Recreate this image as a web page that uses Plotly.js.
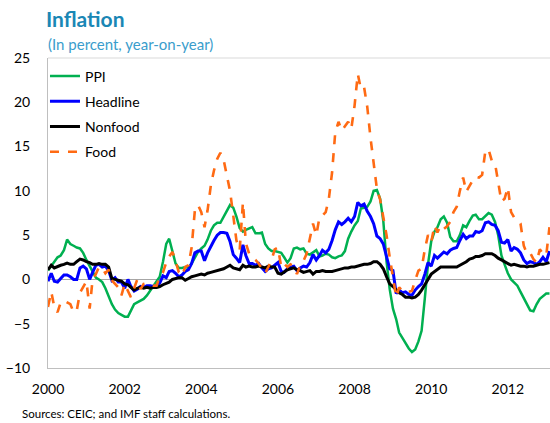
<!DOCTYPE html>
<html>
<head>
<meta charset="utf-8">
<script src="https://cdn.plot.ly/plotly-3.0.1.min.js"></script>
<style>
  html, body { margin: 0; padding: 0; background: #ffffff; }
  #chart { width: 550px; height: 423px; }
</style>
</head>
<body>
<div id="chart"></div>
<script>
// Monthly series, January 2000 to February 2013 (percent, year-on-year)
const startYear = 2000;
const seriesNames = ["PPI", "Headline", "Nonfood", "Food"];
const tickYears = ["2000", "2002", "2004", "2006", "2008", "2010", "2012"];

const ppi = [
  1.0, 1.5, 2.0, 2.5, 2.7, 3.3, 4.5, 4.0, 3.8, 3.6, 3.5, 3.0,
  2.2, 1.5, 0.8, 0.2, 0.0, -0.3, -1.0, -2.0, -2.8, -3.4, -3.8, -4.0,
  -4.2, -4.2, -3.5, -2.8, -2.6, -2.4, -2.2, -1.8, -1.3, -0.8, -0.3, 0.3,
  2.0, 4.0, 4.6, 3.0, 1.8, 1.3, 1.3, 1.4, 1.3, 1.8, 2.5, 3.1,
  3.5, 3.8, 4.5, 5.5, 6.1, 6.4, 6.4, 7.1, 7.9, 8.4, 8.1, 7.1,
  5.8, 5.4, 5.6, 5.8, 5.9, 5.2, 5.2, 5.3, 4.0, 3.5, 3.2, 3.2,
  3.1, 3.0, 2.5, 1.9, 2.4, 3.5, 3.6, 3.4, 3.5, 2.9, 2.8, 3.1,
  3.3, 2.6, 2.7, 2.9, 2.8, 2.5, 2.4, 2.6, 2.7, 3.2, 4.6, 5.4,
  6.1, 6.6, 8.0, 8.1, 8.2, 8.8, 10.0, 10.1, 9.1, 6.6, 2.0, -1.1,
  -3.3, -4.5, -6.0, -6.6, -7.2, -7.8, -8.2, -7.9, -7.0, -5.8, -2.1, 1.7,
  4.3, 5.4, 5.9, 6.8, 7.1, 6.4, 4.8, 4.3, 4.3, 5.0, 6.1, 5.9,
  6.6, 7.2, 7.3, 6.8, 6.8, 7.1, 7.5, 7.3, 6.5, 5.0, 2.7, 1.7,
  0.7, 0.0, -0.3, -0.7, -1.4, -2.1, -2.9, -3.5, -3.6, -2.8, -2.2, -1.9,
  -1.6, -1.6
];

const headline = [
  -0.2, 0.7, -0.2, -0.3, 0.1, 0.5, 0.5, 0.3, 0.0, 0.0, 1.3, 1.5,
  1.2, 0.0, 0.8, 1.6, 1.7, 1.4, 1.5, 1.0, -0.1, 0.2, -0.3, -0.3,
  -1.0, 0.0, -0.8, -1.3, -1.1, -0.8, -0.9, -0.7, -0.7, -0.8, -0.7, -0.4,
  0.4, 0.2, 0.9, 1.0, 0.7, 0.3, 0.5, 0.9, 1.1, 1.8, 3.0, 3.2,
  3.2, 2.1, 3.0, 3.8, 4.4, 5.0, 5.3, 5.3, 5.2, 4.3, 2.8, 2.4,
  1.9, 3.9, 2.7, 1.8, 1.8, 1.6, 1.8, 1.3, 0.9, 1.2, 1.3, 1.6,
  1.9, 0.9, 0.8, 1.2, 1.4, 1.5, 1.0, 1.3, 1.5, 1.4, 1.9, 2.8,
  2.2, 2.7, 3.3, 3.0, 3.4, 4.4, 5.6, 6.5, 6.2, 6.5, 6.9, 6.5,
  7.1, 8.7, 8.3, 8.5, 7.7, 7.1, 6.3, 4.9, 4.6, 4.0, 2.4, 1.2,
  1.0, -1.6, -1.2, -1.5, -1.4, -1.7, -1.8, -1.2, -0.8, -0.5, 0.6, 1.9,
  1.5, 2.7, 2.4, 2.8, 3.1, 2.9, 3.3, 3.5, 3.6, 4.4, 5.1, 4.6,
  4.9, 4.9, 5.4, 5.3, 5.5, 6.4, 6.5, 6.2, 6.1, 5.5, 4.2, 4.1,
  4.5, 3.2, 3.6, 3.4, 3.0, 2.2, 1.8, 2.0, 1.9, 1.7, 2.0, 2.5,
  2.0, 3.2
];

const nonfood = [
  1.1, 1.6, 1.3, 1.5, 1.6, 1.7, 1.85, 1.7, 1.7, 2.0, 2.3, 2.2,
  2.0, 1.9, 1.7, 1.7, 1.8, 1.7, 1.7, 1.4, 0.1, 0.0, -0.1, -0.2,
  -0.5, -0.6, -0.9, -1.2, -1.0, -0.9, -1.0, -0.9, -1.0, -0.9, -0.9, -0.8,
  -0.6, -0.4, -0.3, 0.0, 0.1, 0.2, 0.2, -0.1, 0.1, 0.3, 0.4, 0.5,
  0.6, 0.5, 0.7, 0.8, 0.9, 1.0, 1.1, 1.2, 1.4, 1.6, 1.3, 1.2,
  1.1, 1.6, 1.4, 1.5, 1.4, 1.4, 1.5, 1.4, 1.3, 1.5, 1.4, 1.4,
  0.7, 0.6, 0.8, 1.1, 1.2, 1.3, 1.1, 1.0, 0.8, 0.9, 1.0, 0.6,
  0.9, 0.9, 1.0, 0.9, 0.9, 0.9, 1.0, 1.1, 1.2, 1.3, 1.3, 1.4,
  1.4, 1.5, 1.6, 1.7, 1.7, 1.8, 2.0, 2.0, 1.7, 1.2, 0.3, -0.5,
  -0.8, -1.2, -1.5, -1.7, -2.0, -2.0, -2.1, -2.0, -1.7, -1.2, -0.5, 0.0,
  0.6, 0.9, 1.1, 1.4, 1.4, 1.4, 1.4, 1.4, 1.4, 1.6, 1.8, 2.0,
  2.3, 2.4, 2.6, 2.6, 2.7, 2.9, 2.9, 2.9, 2.7, 2.4, 2.2, 2.0,
  1.8, 1.6, 1.7, 1.6, 1.5, 1.5, 1.4, 1.5, 1.5, 1.6, 1.7, 1.7,
  1.8, 1.9
];

const food = [
  -3.1, -1.4, -3.1, -3.7, -2.6, -2.4, -2.6, -2.8, -3.7, -3.5, -1.5, -0.8,
  -0.2, -3.3, 0.0, 0.6, 1.4, 1.3, 0.7, 1.1, -0.1, -0.5, -0.9, -1.8,
  -0.5, -1.3, -2.0, -1.0, 0.0, -1.1, -0.5, -0.4, -0.5, -0.7, -0.7, 0.3,
  0.8, 1.9, 2.6, 3.1, 2.1, 0.8, 0.4, 1.4, 1.6, 3.6, 7.8, 8.4,
  7.6, 5.9, 7.8, 10.6, 12.3, 13.6, 14.3, 13.5, 11.8, 10.0, 7.2, 4.4,
  3.3, 8.7, 4.1, 2.9, 2.5, 2.2, 1.8, 1.2, 0.7, 1.4, 2.2, 3.4,
  3.6, 1.4, 1.8, 1.4, 1.7, 1.5, 0.6, 1.6, 2.1, 2.9, 4.5, 6.3,
  5.0, 7.0, 7.2, 7.6, 9.1, 12.1, 16.6, 17.8, 16.8, 17.3, 17.8, 17.0,
  19.6, 23.2, 21.5, 21.7, 19.5, 16.0, 13.0, 10.2, 9.0, 7.0, 5.0, 2.5,
  0.0, -2.0, -0.9, -1.3, -1.5, -1.4, -1.3, -0.1, 1.0, 1.2, 3.4, 5.0,
  4.2, 6.1, 5.3, 6.1, 5.7, 6.0, 6.5, 7.6, 8.2, 10.0, 11.5, 9.9,
  10.6, 11.2, 11.6, 11.5, 11.8, 14.5, 14.7, 13.4, 13.1, 11.0, 8.8, 9.1,
  10.4, 7.6, 7.0, 6.6, 6.3, 3.8, 2.9, 3.0, 2.3, 1.9, 3.4, 2.9,
  2.7, 5.9
];

function monthDates(n) {
  const out = [];
  for (let i = 0; i < n; i++) {
    const y = startYear + Math.floor(i / 12);
    const m = (i % 12) + 1;
    out.push(y + "-" + (m < 10 ? "0" + m : m) + "-01");
  }
  return out;
}
const dates = monthDates(headline.length);

const FONT = "Lato, 'Open Sans', sans-serif";

const styles = [
  { color: "#00b050", width: 2.5, dash: "solid" },
  { color: "#0000ff", width: 3, dash: "solid" },
  { color: "#000000", width: 3, dash: "solid" },
  { color: "#ff6a13", width: 2.6, dash: "dash" }
];
const values = [ppi, headline, nonfood, food];

const traces = values.map((v, i) => ({
  type: "scatter",
  mode: "lines",
  name: seriesNames[i],
  legendgroup: "g" + i,
  x: dates,
  y: v,
  line: { color: styles[i].color, width: styles[i].width, dash: styles[i].dash }
}));

const layout = {
  width: 550,
  height: 423,
  margin: { l: 48, r: 0, t: 58, b: 55 },
  paper_bgcolor: "#ffffff",
  plot_bgcolor: "#ffffff",
  font: { family: FONT, color: "#000000", size: 13 },
  showlegend: true,
  legend: {
    x: -0.006, y: 0.992, xanchor: "left", yanchor: "top",
    bgcolor: "rgba(255,255,255,0)",
    font: { family: FONT, size: 14, color: "#000000" },
    traceorder: "grouped",
    tracegroupgap: 4
  },
  xaxis: {
    type: "date",
    range: ["2000-01-01", "2013-02-06"],
    tickmode: "array",
    tickvals: tickYears.map(y => y + "-01-01"),
    ticktext: tickYears,
    showgrid: false,
    zeroline: false,
    showline: true,
    linecolor: "#bfbfbf",
    linewidth: 1,
    ticks: "",
    ticklabelstandoff: 8,
    tickfont: { family: FONT, size: 14, color: "#000000" }
  },
  yaxis: {
    range: [-10, 25],
    tickvals: [-10, -5, 0, 5, 10, 15, 20, 25],
    showgrid: false,
    zeroline: true,
    zerolinecolor: "#a6a6a6",
    zerolinewidth: 1,
    showline: true,
    linecolor: "#bfbfbf",
    linewidth: 1,
    ticks: "",
    ticklabelstandoff: 14,
    tickfont: { family: FONT, size: 14, color: "#000000" }
  },
  shapes: [
    { type: "line", xref: "paper", yref: "paper", x0: 0, x1: 1, y0: 1, y1: 1,
      line: { color: "#d9d9d9", width: 1 } }
  ],
  title: {
    text: "<b>Inflation</b>",
    xref: "container", yref: "container",
    x: 46 / 550, xanchor: "left",
    y: 1 - 20 / 423, yanchor: "middle",
    font: { family: FONT, size: 21, color: "#1a87b5" }
  },
  annotations: [
    { text: "(In percent, year-on-year)", xref: "paper", yref: "paper",
      x: -0.004, y: (368 - 44) / 310, xanchor: "left", yanchor: "middle",
      showarrow: false, font: { family: FONT, size: 15, color: "#3a9dcc" } },
    { text: "Sources: CEIC; and IMF staff calculations.", xref: "paper", yref: "paper",
      x: -0.056, y: (368 - 413) / 310, xanchor: "left", yanchor: "middle",
      showarrow: false, font: { family: FONT, size: 11.5, color: "#000000" } }
  ]
};

Plotly.newPlot("chart", traces, layout, { displayModeBar: false, staticPlot: true });
</script>
</body>
</html>
